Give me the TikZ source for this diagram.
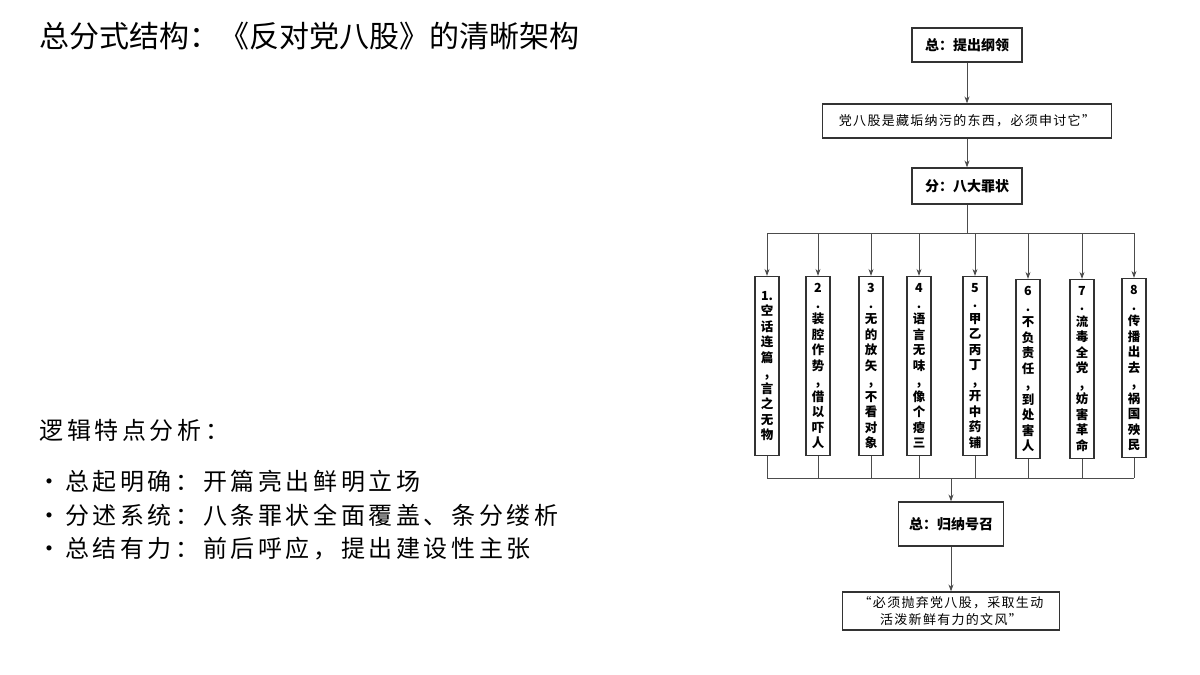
\documentclass[tikz,border=0pt]{standalone}
\usepackage{fontspec}
\setmainfont{Noto Sans CJK SC}
\newfontfamily\spaced[LetterSpace=15]{Noto Sans CJK SC}
\newfontfamily\qspaced[LetterSpace=10]{Noto Sans CJK SC}
\usetikzlibrary{arrows.meta}
\begin{document}
\begin{tikzpicture}[x=1pt,y=-1pt,
  box/.style={draw=black!80,line width=1.2pt,fill=white,align=center,inner sep=0pt},
  hbox/.style={box,font=\fontsize{14}{16}\selectfont\bfseries},
  qbox/.style={box,font=\qspaced\fontsize{13}{17}\selectfont},
  vbox/.style={box,minimum width=24pt,minimum height=179pt,font=\fontsize{12.5}{15.5}\selectfont\bfseries},
  arr/.style={draw=black!70,line width=0.9pt,-{Stealth[length=7pt,width=5pt]}},
  ln/.style={draw=black!70,line width=0.9pt},
  lt/.style={anchor=west,font=\spaced\fontsize{24}{26}\selectfont}]
\useasboundingbox (0,0) rectangle (1200,675);
\node[anchor=west,font=\fontsize{30}{32}\selectfont] (title) at (36,36) {总分式结构：《反对党八股》的清晰架构};
\node[lt] (lg) at (36,430) {逻辑特点分析：};
\node[lt] (b1) at (34,481) {•总起明确：开篇亮出鲜明立场};
\node[lt] (b2) at (34,515) {•分述系统：八条罪状全面覆盖、条分缕析};
\node[lt] (b3) at (34,549) {•总结有力：前后呼应，提出建设性主张};

\node[hbox,minimum width=110pt,minimum height=34pt] (z1) at (967,45) {总：提出纲领};
\node[qbox,minimum width=289pt,minimum height=34pt] (q1) at (967,121) {党八股是藏垢纳污的东西，必须申讨它”};
\node[hbox,minimum width=110pt,minimum height=36pt] (f) at (967,186) {分：八大罪状};
\draw[arr] (z1) -- (q1);
\draw[arr] (q1) -- (f);

\node[vbox] (v1) at (767,366) {1.\\空\\话\\连\\篇\\,\\言\\之\\无\\物};
\node[vbox] (v2) at (818,366) {2\\.\\装\\腔\\作\\势\\,\\借\\以\\吓\\人};
\node[vbox] (v3) at (871,366) {3\\.\\无\\的\\放\\矢\\,\\不\\看\\对\\象};
\node[vbox] (v4) at (919,366) {4\\.\\语\\言\\无\\味\\,\\像\\个\\瘪\\三};
\node[vbox] (v5) at (975,366) {5\\.\\甲\\乙\\丙\\丁\\,\\开\\中\\药\\铺};
\node[vbox] (v6) at (1028,369) {6\\.\\不\\负\\责\\任\\,\\到\\处\\害\\人};
\node[vbox] (v7) at (1082,369) {7\\.\\流\\毒\\全\\党\\,\\妨\\害\\革\\命};
\node[vbox] (v8) at (1134,368) {8\\.\\传\\播\\出\\去\\,\\祸\\国\\殃\\民};

\coordinate (br) at (967,233);
\draw[ln] (f) -- (br);
\foreach \i in {1,...,8} {
  \coordinate (t\i) at (v\i.north |- br);
  \coordinate (u\i) at (v\i.south |- 0,478);
  \draw[arr] (t\i) -- (v\i);
  \draw[ln] (v\i) -- (u\i);
}
\draw[ln] (t1) -- (t8);
\draw[ln] (u1) -- (u8);

\node[hbox,minimum width=105pt,minimum height=44pt] (z2) at (951,524) {总：归纳号召};
\node[qbox,minimum width=217pt,minimum height=38pt] (q2) at (951,611) {“必须抛弃党八股，采取生动\\活泼新鲜有力的文风”};
\coordinate (m) at (z2.north |- u1);
\draw[arr] (m) -- (z2);
\draw[arr] (z2) -- (q2);
\end{tikzpicture}
\end{document}
